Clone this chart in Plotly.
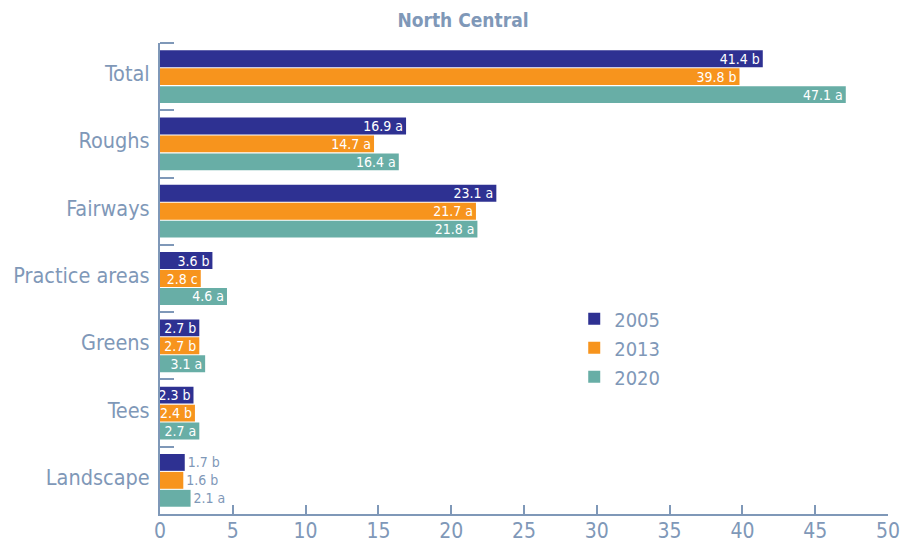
import plotly.graph_objects as go

categories = ["Total", "Roughs", "Fairways", "Practice areas", "Greens", "Tees", "Landscape"]
years = ["2005", "2013", "2020"]
values_2005 = [41.4, 16.9, 23.1, 3.6, 2.7, 2.3, 1.7]
values_2013 = [39.8, 14.7, 21.7, 2.8, 2.7, 2.4, 1.6]
values_2020 = [47.1, 16.4, 21.8, 4.6, 3.1, 2.7, 2.1]
letters_2005 = ["b", "a", "a", "b", "b", "b", "b"]
letters_2013 = ["b", "a", "a", "c", "b", "b", "b"]
letters_2020 = ["a", "a", "a", "a", "a", "a", "a"]
colors = ["#2e3192", "#f7941d", "#68aea6"]
axis_color = "#7f98b8"
font_family = "DejaVu Sans Condensed, Liberation Sans Narrow, Roboto, Arial"

fig = go.Figure()
for name, vals, lets, col in zip(years, [values_2005, values_2013, values_2020],
                                  [letters_2005, letters_2013, letters_2020], colors):
    texts = [f"{v} {l}" for v, l in zip(vals, lets)]
    positions = ["outside" if c == "Landscape" else "inside" for c in categories]
    fig.add_trace(go.Bar(
        y=categories, x=vals, name=name, orientation="h",
        marker=dict(color=col, line=dict(width=0)),
        text=texts, textposition=positions, insidetextanchor="end",
        insidetextfont=dict(color="white", size=14, family=font_family),
        outsidetextfont=dict(color=axis_color, size=14, family=font_family),
        cliponaxis=False, constraintext="none",
    ))

# page body has an 8px margin, so the figure is sized/offset to compensate
fig.update_layout(
    width=906, height=536,
    barmode="group", bargap=0.2, bargroupgap=0.06,
    plot_bgcolor="white", paper_bgcolor="white",
    margin=dict(l=152, r=26, t=35, b=30, autoexpand=False),
    title=dict(text="<b>North Central</b>", x=455 / 906, xref="container", xanchor="center",
               y=1 - 12 / 536, yref="container", yanchor="middle",
               font=dict(size=19, color=axis_color, family=font_family)),
    font=dict(family=font_family, color=axis_color),
    uniformtext=dict(minsize=14, mode="show"),
    legend=dict(x=0.569, y=0.456, xanchor="left", yanchor="top",
                font=dict(size=20, color=axis_color, family=font_family),
                bgcolor="rgba(0,0,0,0)", itemwidth=30, tracegroupgap=0),
    showlegend=True,
    shapes=[dict(type="line", xref="paper", yref="paper", x0=0, x1=14 / 728, y0=1, y1=1,
                 line=dict(color=axis_color, width=2))],
)
fig.update_xaxes(range=[0, 50], dtick=5, showgrid=False, zeroline=False,
                 showline=True, linecolor=axis_color, linewidth=2, automargin=False,
                 ticks="inside", ticklen=9, tickwidth=2, tickcolor=axis_color,
                 ticklabelstandoff=-3,
                 tickfont=dict(size=21, color=axis_color, family=font_family))
fig.update_yaxes(autorange="reversed", showgrid=False, zeroline=False, automargin=False,
                 showline=True, linecolor=axis_color, linewidth=2,
                 ticks="inside", tickson="boundaries", ticklen=14, tickwidth=2,
                 tickcolor=axis_color, ticklabelstandoff=4, ticklabelshift=3,
                 tickfont=dict(size=21.5, color=axis_color, family=font_family))

fig.write_html("out.html")
